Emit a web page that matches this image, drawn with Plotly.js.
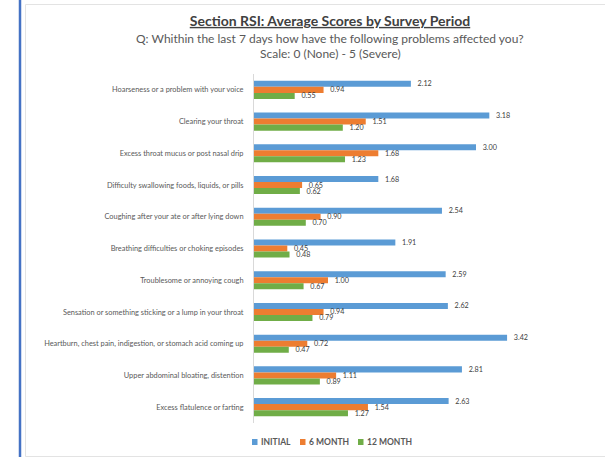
<!DOCTYPE html>
<html>
<head>
<meta charset="utf-8">
<script src="https://cdn.plot.ly/plotly-3.0.1.min.js"></script>
<style>html,body{margin:0;padding:0;background:#fff;}#chart{width:605px;height:457px;}</style>
</head>
<body>
<div id="chart"></div>
<script>
var categories = [
  "Hoarseness or a problem with your voice",
  "Clearing your throat",
  "Excess throat mucus or post nasal drip",
  "Difficulty swallowing foods, liquids, or pills",
  "Coughing after your ate or after lying down",
  "Breathing difficulties or choking episodes",
  "Troublesome or annoying cough",
  "Sensation or something sticking or a lump in your throat",
  "Heartburn, chest pain, indigestion, or stomach acid coming up",
  "Upper abdominal bloating, distention",
  "Excess flatulence or farting"
];
var seriesNames = ["INITIAL", "6 MONTH", "12 MONTH"];
var initial = [2.12, 3.18, 3.00, 1.68, 2.54, 1.91, 2.59, 2.62, 3.42, 2.81, 2.63];
var month6 = [0.94, 1.51, 1.68, 0.65, 0.90, 0.45, 1.00, 0.94, 0.72, 1.11, 1.54];
var month12 = [0.55, 1.20, 1.23, 0.62, 0.70, 0.48, 0.67, 0.79, 0.47, 0.89, 1.27];
var colors = ["#5B9BD5", "#ED7D31", "#70AD47"];

var FONT = "Lato, 'Open Sans', sans-serif";
var allSeries = [initial, month6, month12];
var traces = allSeries.map(function (vals, i) {
  return {
    type: "bar",
    orientation: "h",
    name: seriesNames[i],
    y: categories,
    x: vals,
    marker: {color: colors[i]},
    text: vals.map(function (v) { return v.toFixed(2); }),
    texttemplate: "  %{text}",
    textposition: "outside",
    constraintext: "none",
    cliponaxis: false,
    textfont: {size: 7.2, color: "#404040", family: FONT},
    hoverinfo: "none",
    showlegend: false
  };
});

// pixel helpers for frame shapes / legend
var L = 254, R = 55, T = 74, B = 34, W = 605, H = 457;
var pw = W - L - R, ph = H - T - B;
function px(x) { return (x - L) / pw; }
function py(y) { return (H - B - y) / ph; }

var shapes = [
  {type: "line", xref: "paper", yref: "paper", x0: px(20), x1: px(20), y0: py(0), y1: py(457),
   line: {color: "#4472C4", width: 2.5}},
  {type: "line", xref: "paper", yref: "paper", x0: px(25.5), x1: px(25.5), y0: py(4.5), y1: py(456.5),
   line: {color: "#e3e3e3", width: 1}},
  {type: "line", xref: "paper", yref: "paper", x0: px(25.5), x1: px(605), y0: py(4.5), y1: py(4.5),
   line: {color: "#e3e3e3", width: 1}},
  {type: "line", xref: "paper", yref: "paper", x0: px(25.5), x1: px(605), y0: py(456.5), y1: py(456.5),
   line: {color: "#e3e3e3", width: 1}}
];
var annotations = [
  {text: "Q: Whithin the last 7 days how have the following problems affected you?",
   xref: "paper", yref: "paper", x: px(330), y: py(39), xanchor: "center", yanchor: "middle",
   showarrow: false, font: {size: 12, color: "#595959", family: FONT}},
  {text: "Scale: 0 (None) - 5 (Severe)",
   xref: "paper", yref: "paper", x: px(330), y: py(54), xanchor: "center", yanchor: "middle",
   showarrow: false, font: {size: 12, color: "#595959", family: FONT}}
];

// compact legend (Excel-style small squares)
var legendX = [252, 300, 358];
var legendY = 442;
seriesNames.forEach(function (name, i) {
  shapes.push({type: "rect", xref: "paper", yref: "paper",
    x0: px(legendX[i]), x1: px(legendX[i] + 5.5), y0: py(legendY - 3), y1: py(legendY + 3),
    fillcolor: colors[i], line: {width: 0}});
  annotations.push({text: "<b>" + name + "</b>", xref: "paper", yref: "paper",
    x: px(legendX[i] + 7), y: py(legendY), xanchor: "left", yanchor: "middle",
    showarrow: false, font: {size: 8.5, color: "#595959", family: FONT}});
});

var layout = {
  width: W, height: H,
  margin: {l: L, r: R, t: T, b: B, pad: 0},
  paper_bgcolor: "#ffffff",
  plot_bgcolor: "#ffffff",
  font: {family: FONT, color: "#595959"},
  barmode: "group",
  bargap: 0.43,
  bargroupgap: 0,
  showlegend: false,
  title: {
    text: "<b><u>Section RSI: Average Scores by Survey Period</u></b>",
    x: 330 / W, xanchor: "center", xref: "container",
    y: 1 - 21 / H, yanchor: "middle", yref: "container",
    font: {size: 14, color: "#404040", family: FONT}
  },
  annotations: annotations,
  xaxis: {
    range: [0, 4],
    visible: false,
    showgrid: false,
    zeroline: false,
    fixedrange: true
  },
  yaxis: {
    autorange: "reversed",
    type: "category",
    showline: true,
    linecolor: "#d9d9d9",
    linewidth: 1,
    ticks: "",
    showgrid: false,
    ticklabelstandoff: 8,
    tickfont: {size: 7.4, color: "#595959", family: FONT},
    fixedrange: true
  },
  shapes: shapes
};

Plotly.newPlot("chart", traces, layout, {displayModeBar: false, staticPlot: true});
</script>
</body>
</html>
